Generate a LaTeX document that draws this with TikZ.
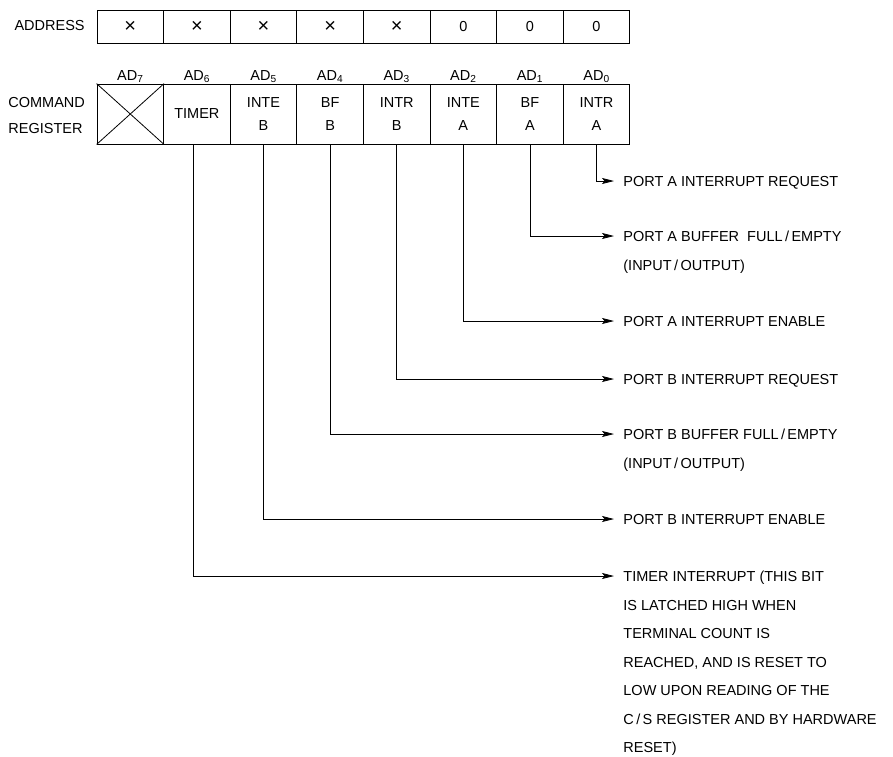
\documentclass[tikz,border=0pt]{standalone}
\usepackage{fontspec}
\setmainfont{Liberation Sans}
\usetikzlibrary{arrows.meta, positioning}

\begin{document}
\begin{tikzpicture}[x=1pt, y=-1pt, line width=0.8pt,
      cell/.style={draw, line width=0.8pt, minimum width=66.6pt, inner sep=0pt,
                   align=center, font=\fontsize{14.5}{23}\selectfont},
      adrcell/.style={cell, minimum height=33pt},
      cmdcell/.style={cell, minimum height=60pt},
      bitlbl/.style={anchor=base, inner sep=0pt, font=\fontsize{14.5}{17}\selectfont},
      desc/.style={anchor=north west, align=left, inner xsep=9pt, inner ysep=0pt,
                   font=\fontsize{14.5}{28.5}\selectfont},
      >={Stealth[length=12pt,width=6pt,inset=2.5pt]}]
    \useasboundingbox (0,0) rectangle (893,756);
    % Address row
    \node[anchor=east, inner sep=0pt, font=\fontsize{14.5}{17}\selectfont] (adr) at (85,26) {ADDRESS};
    \foreach \b/\v in {7/{\fontsize{20}{20}\selectfont ×}, 6/{\fontsize{20}{20}\selectfont ×},
                       5/{\fontsize{20}{20}\selectfont ×}, 4/{\fontsize{20}{20}\selectfont ×},
                       3/{\fontsize{20}{20}\selectfont ×}, 2/0, 1/0, 0/0} {
      \node[adrcell] (a\b) at ({130.3+66.6*(7-\b)}, 26.5) {\v};
    }
    % Command register
    \node[anchor=west, align=left, inner sep=0pt, font=\fontsize{14.5}{26}\selectfont]
          (cmd) at (8,116) {COMMAND\\REGISTER};
    \foreach \b/\t in {7/{}, 6/TIMER, 5/{INTE\\B}, 4/{BF\\B}, 3/{INTR\\B},
                       2/{INTE\\A}, 1/{BF\\A}, 0/{INTR\\A}} {
      \node[cmdcell] (c\b) at ({130.3+66.6*(7-\b)}, 114) {\t};
      \node[bitlbl] (l\b) at ([yshift=3pt]c\b.north) {AD\textsubscript{\b}};
    }
    \draw (c7.north west) -- (c7.south east) (c7.south west) -- (c7.north east);
    % Descriptions
    \node[desc] (d0) at (614,175.8) {PORT A INTERRUPT REQUEST};
    \node[desc] (d1) at (614,230.8) {PORT A BUFFER\ \ FULL\,/\,EMPTY\\(INPUT\,/\,OUTPUT)};
    \node[desc] (d2) at (614,315.8) {PORT A INTERRUPT ENABLE};
    \node[desc] (d3) at (614,373.8) {PORT B INTERRUPT REQUEST};
    \node[desc] (d4) at (614,428.8) {PORT B BUFFER FULL\,/\,EMPTY\\(INPUT\,/\,OUTPUT)};
    \node[desc] (d5) at (614,513.8) {PORT B INTERRUPT ENABLE};
    \node[desc] (d6) at (614,570.8) {TIMER INTERRUPT (THIS BIT\\IS LATCHED HIGH WHEN\\
          TERMINAL COUNT IS\\REACHED, AND IS RESET TO\\LOW UPON READING OF THE\\
          C\,/\,S REGISTER AND BY HARDWARE\\RESET)};
    \foreach \b in {0,...,5}
      \draw[->] (c\b.south) |- ([yshift=-5.2pt]d\b.north west);
    \draw[->] ([xshift=-4pt]c6.south) |- ([yshift=-5.2pt]d6.north west);
  \end{tikzpicture}
\end{document}
